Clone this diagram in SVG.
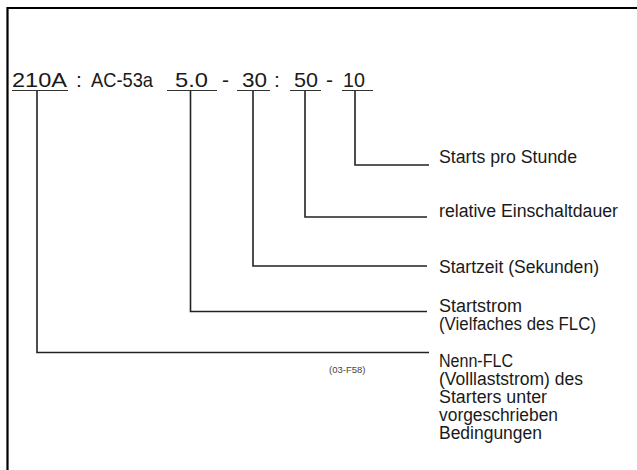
<svg xmlns="http://www.w3.org/2000/svg" width="637" height="470" viewBox="0 0 637 470">
<style>
.t{font-family:"Liberation Sans",Arial,sans-serif;fill:#1a1a1a}
.code{font-size:21px}
.lbl{font-size:18px}
.ul{stroke:#333;stroke-width:1.2;fill:none}
.con{stroke:#222;stroke-width:1.6;fill:none}
.note{font-family:"Liberation Sans",Arial,sans-serif;font-size:9.5px;fill:#444}
</style>
<rect width="637" height="470" fill="#fff"/>
<path d="M7.5 470 V8 H637" fill="none" stroke="#000" stroke-width="2.2"/>
<g id="code">
<text class="t code" x="12" y="87" textLength="55" lengthAdjust="spacingAndGlyphs">210A</text>
<text class="t code" x="76" y="87">:</text>
<text class="t code" x="91" y="87" textLength="62" lengthAdjust="spacingAndGlyphs">AC-53a</text>
<text class="t code" x="175" y="87" textLength="33" lengthAdjust="spacingAndGlyphs">5.0</text>
<text class="t code" x="222" y="87">-</text>
<text class="t code" x="242" y="87" textLength="25" lengthAdjust="spacingAndGlyphs">30</text>
<text class="t code" x="274" y="87">:</text>
<text class="t code" x="294" y="87" textLength="24" lengthAdjust="spacingAndGlyphs">50</text>
<text class="t code" x="326" y="87">-</text>
<text class="t code" x="343" y="87" textLength="22" lengthAdjust="spacingAndGlyphs">10</text>
<path class="ul" d="M12 90.5 H68 M167 90.5 H217 M237 90.5 H270 M290 90.5 H321 M342 90.5 H373"/>
</g>
<g id="connectors">
<path class="con" d="M355 91 V165 H429"/>
<path class="con" d="M305 91 V217 H427"/>
<path class="con" d="M253 91 V266 H427"/>
<path class="con" d="M190.5 91 V311.5 H427"/>
<path class="con" d="M37 91 V352.5 H429"/>
</g>
<g id="starts">
<text class="t lbl" x="439" y="163" textLength="138" lengthAdjust="spacingAndGlyphs">Starts pro Stunde</text>
</g>
<g id="einschaltdauer">
<text class="t lbl" x="439" y="217" textLength="179" lengthAdjust="spacingAndGlyphs">relative Einschaltdauer</text>
</g>
<g id="startzeit">
<text class="t lbl" x="439" y="273" textLength="160" lengthAdjust="spacingAndGlyphs">Startzeit (Sekunden)</text>
</g>
<g id="startstrom">
<text class="t lbl" x="439" y="312" textLength="83" lengthAdjust="spacingAndGlyphs">Startstrom</text>
<text class="t lbl" x="439" y="330" textLength="157" lengthAdjust="spacingAndGlyphs">(Vielfaches des FLC)</text>
</g>
<g id="nenn">
<text class="t lbl" x="439" y="367" textLength="74" lengthAdjust="spacingAndGlyphs">Nenn-FLC</text>
<text class="t lbl" x="439" y="385" textLength="144" lengthAdjust="spacingAndGlyphs">(Volllaststrom) des</text>
<text class="t lbl" x="439" y="403" textLength="108" lengthAdjust="spacingAndGlyphs">Starters unter</text>
<text class="t lbl" x="439" y="421" textLength="119" lengthAdjust="spacingAndGlyphs">vorgeschrieben</text>
<text class="t lbl" x="439" y="439" textLength="103" lengthAdjust="spacingAndGlyphs">Bedingungen</text>
</g>
<text class="note" x="329" y="373">(03-F58)</text>
</svg>
